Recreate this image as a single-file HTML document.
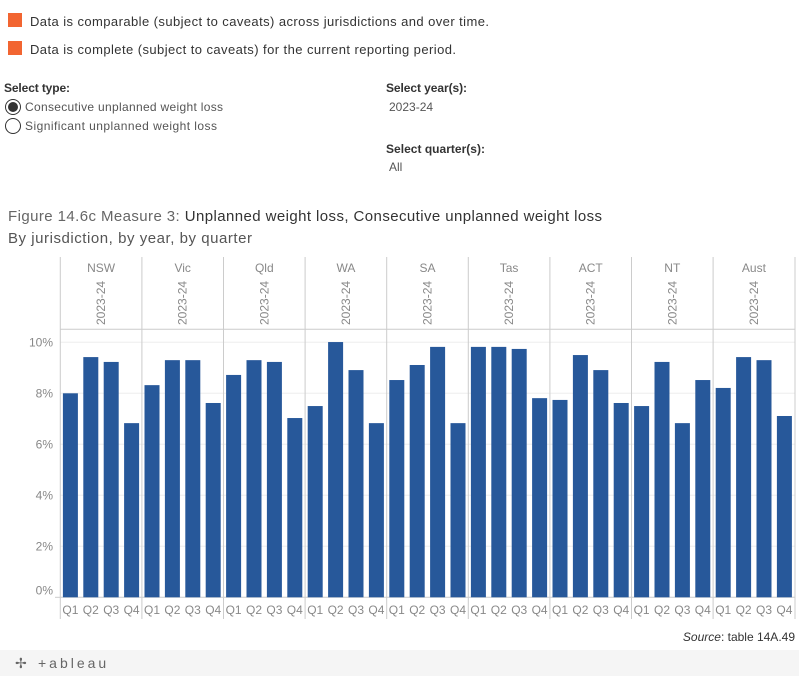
<!DOCTYPE html>
<html><head><meta charset="utf-8"><style>
body{margin:0;background:#fff;width:799px;height:676px;overflow:hidden;font-family:"Liberation Sans",sans-serif}
svg text{font-family:"Liberation Sans",sans-serif}
</style></head><body>
<svg id="c" width="799" height="676" viewBox="0 0 799 676" xmlns="http://www.w3.org/2000/svg">
<g>
<rect x="8" y="13" width="14" height="14" fill="#f26531"/>
<text x="30" y="26" font-size="13" fill="#333" textLength="459">Data is comparable (subject to caveats) across jurisdictions and over time.</text>
<rect x="8" y="41" width="14" height="14" fill="#f26531"/>
<text x="30" y="54" font-size="13" fill="#333" textLength="426">Data is complete (subject to caveats) for the current reporting period.</text>
</g>
<text x="4" y="92" font-size="12" font-weight="bold" fill="#333" textLength="66">Select type:</text>
<g>
<circle cx="13" cy="107" r="7.5" fill="#fff" stroke="#333" stroke-width="1"/><circle cx="13" cy="107" r="5" fill="#333"/>
<text x="25" y="111" font-size="12" fill="#555" textLength="198">Consecutive unplanned weight loss</text></g>
<g>
<circle cx="13" cy="126" r="7.5" fill="#fff" stroke="#333" stroke-width="1"/>
<text x="25" y="130" font-size="12" fill="#555" textLength="192">Significant unplanned weight loss</text></g>
<text x="386" y="92" font-size="12" font-weight="bold" fill="#333" textLength="81">Select year(s):</text>
<text x="389" y="111" font-size="12" fill="#555">2023-24</text>
<text x="386" y="153" font-size="12" font-weight="bold" fill="#333" textLength="99">Select quarter(s):</text>
<text x="389" y="171" font-size="12" fill="#555">All</text>
<text x="8" y="221" font-size="15" fill="#666" textLength="594">Figure 14.6c Measure 3: <tspan fill="#333">Unplanned weight loss, Consecutive unplanned weight loss</tspan></text>
<text x="8" y="243" font-size="15" fill="#555" textLength="244">By jurisdiction, by year, by quarter</text>
<g id="plot"></g>
<text x="795" y="641" font-size="12" fill="#333" text-anchor="end"><tspan font-style="italic">Source</tspan>: table 14A.49</text>
<rect x="0" y="650" width="799" height="26" fill="#f5f5f5"/>
<g>
<text x="15" y="668" font-size="14" fill="#666">✢</text>
<text x="38" y="668" font-size="14" fill="#666" letter-spacing="3">+ableau</text></g>
</svg>
<script>
const jurisdictions=["NSW","Vic","Qld","WA","SA","Tas","ACT","NT","Aust"];
const quarters=["Q1","Q2","Q3","Q4"];
const yTicks=[0,2,4,6,8,10];
const valNSW=[8.0,9.42,9.23,6.83];
const valVic=[8.32,9.3,9.3,7.62];
const valQld=[8.72,9.3,9.23,7.03];
const valWA=[7.5,10.01,8.91,6.83];
const valSA=[8.52,9.11,9.82,6.83];
const valTas=[9.82,9.82,9.74,7.81];
const valACT=[7.74,9.5,8.91,7.62];
const valNT=[7.5,9.23,6.83,8.52];
const valAust=[8.21,9.42,9.3,7.11];
const series=[valNSW,valVic,valQld,valWA,valSA,valTas,valACT,valNT,valAust];
const NS="http://www.w3.org/2000/svg";
const g=document.getElementById('plot');
const X0=60.3,PW=81.6,BASE=597.3,PX=25.5,TOP=329.3,HTOP=257;
const y=v=>BASE-v*PX;
function el(t,a){const e=document.createElementNS(NS,t);for(const k in a)e.setAttribute(k,a[k]);g.appendChild(e);return e;}
yTicks.forEach(t=>{
 const l=el('line',{x1:X0,x2:795,y1:y(t),y2:y(t),stroke:t?'#eee':'#ccc','stroke-width':1});
 
 
 const tx=el('text',{x:53,y:y(t)+(t?4:-3),'font-size':12,fill:'#888','text-anchor':'end'});
 tx.textContent=t+'%';
 
 
});
el('line',{x1:55,x2:X0,y1:BASE,y2:BASE,stroke:'#ccc'});
el('line',{x1:X0,x2:795,y1:TOP,y2:TOP,stroke:'#ccc'});
jurisdictions.forEach((j,i)=>{
 const px=X0+i*PW;
 const v=el('line',{x1:px,x2:px,y1:HTOP,y2:619,stroke:'#ccc'});
 
 
 const h=el('text',{x:px+PW/2,y:272,'font-size':12,fill:'#888','text-anchor':'middle'});
 h.textContent=j;
 
 
 const yr=el('text',{x:0,y:0,'font-size':12,fill:'#888','text-anchor':'start',transform:`translate(${px+PW/2+4},325) rotate(-90)`});
 yr.textContent='2023-24';
 
 
 quarters.forEach((q,k)=>{
  const bx=px+2.6+k*20.4;const val=series[i][k];
  const r=el('rect',{x:bx,y:y(val),width:15,height:BASE-y(val),fill:'#27589a'});
  
  
  const ql=el('text',{x:bx+7.5,y:614,'font-size':12,fill:'#888','text-anchor':'middle'});
  ql.textContent=q;
  
  
 });
});
el('line',{x1:795,x2:795,y1:HTOP,y2:619,stroke:'#ccc'});
</script>
</body></html>
